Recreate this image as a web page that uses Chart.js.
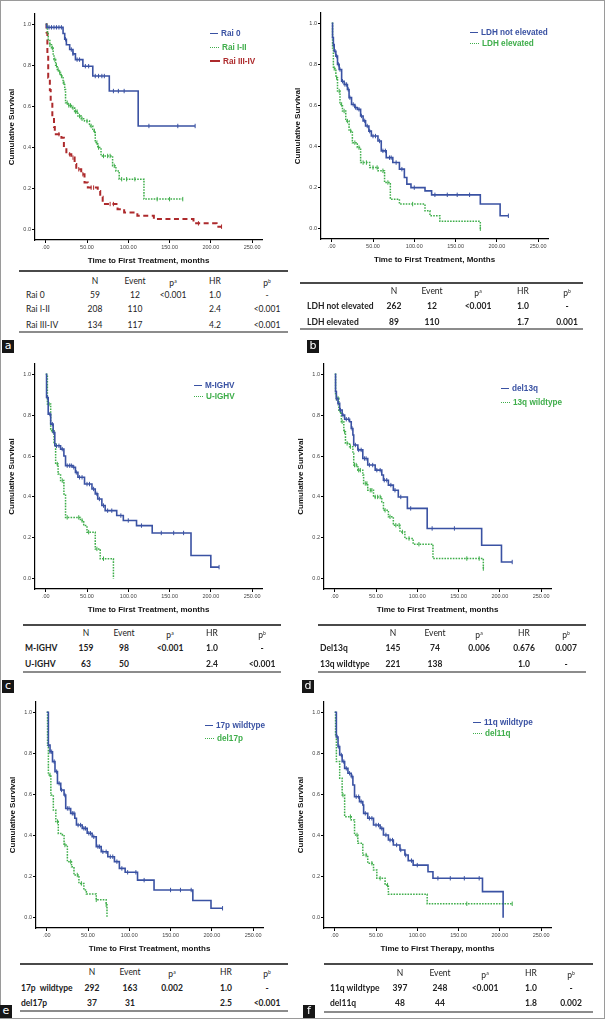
<!DOCTYPE html>
<html>
<head>
<meta charset="utf-8">
<script src="https://cdn.jsdelivr.net/npm/chart.js@4.4.1/dist/chart.umd.min.js"></script>
<style>
  body { margin: 0; background: #fff; }
  #fig { position: relative; width: 605px; height: 1019px; overflow: hidden; background: #fff;
         font-family: "Liberation Sans", Arial, sans-serif; }
  #frame { position: absolute; left: 0; top: 0; right: 0; bottom: 0; border: 1.5px solid #9a9a9a; pointer-events: none; }
  canvas { position: absolute; }
  .leg { position: absolute; font-weight: bold; font-size: 8.2px; line-height: 10px; white-space: nowrap; }
  .leg i { display: inline-block; vertical-align: middle; margin-right: 3px; margin-top: -1px; }
  .cell { position: absolute; font-family: Lato, sans-serif; font-size: 8.5px; line-height: 10px; white-space: nowrap; color: #222; }
  .cell sup { font-size: 5px; vertical-align: 3px; }
  .rule { position: absolute; height: 1.5px; }
  .tag { position: absolute; width: 12px; height: 13px; background: #161616; color: #fff; font: 11px/12px "DejaVu Sans", sans-serif; text-align: center; }
</style>
</head>
<body>
<div id="fig"><div id="frame"></div></div>
<script>
// axis ticks shared by every panel
const xTickValues = [0, 50, 100, 150, 200, 250];
const xTickLabels = [".00", "50.00", "100.00", "150.00", "200.00", "250.00"];
const yTickValues = [0, 0.2, 0.4, 0.6, 0.8, 1.0];
const yTickLabels = ["0.0", "0.2", "0.4", "0.6", "0.8", "1.0"];

// Kaplan-Meier steps: [months, cumulative survival]
// (a) Rai stage
const rai0Steps = [[0,1],[1,0.985],[21,0.955],[23,0.927],[25,0.90],[29,0.877],[33,0.856],[36,0.828],[45,0.796],[57,0.748],[77,0.675],[112,0.505],[181,0.505]];
const rai0Cens = [4,7,10,13,16,19,24,31,33,38,41,48,52,60,64,68,71,82,88,95,125,160,181];
const rai12Steps = [[0,1],[2,0.96],[3,0.925],[5,0.9],[7,0.885],[9,0.85],[10,0.828],[12,0.8],[14,0.78],[16,0.765],[18,0.748],[21,0.715],[23,0.683],[24,0.618],[27,0.605],[31,0.594],[35,0.575],[39,0.553],[43,0.54],[47,0.529],[53,0.505],[57,0.481],[60,0.424],[63,0.4],[67,0.359],[81,0.311],[85,0.286],[89,0.246],[119,0.149],[166,0.149]];
const rai12Cens = [5,8,11,13,15,17,19,22,26,28,30,33,36,38,41,44,50,55,59,62,64,70,75,78,83,92,98,108,135,150,166];
const rai34Steps = [[0,1],[1,0.96],[2,0.85],[3,0.74],[5,0.68],[6,0.626],[8,0.55],[10,0.5],[11,0.465],[19,0.448],[22,0.4],[25,0.367],[31,0.351],[35,0.32],[37,0.294],[43,0.27],[47,0.23],[51,0.205],[63,0.189],[66,0.16],[69,0.125],[87,0.1],[95,0.084],[111,0.068],[131,0.052],[179,0.031],[207,0.015],[213,0.015]];
const rai34Cens = [16,29,33,40,45,55,58,78,82,185,213];

// (b) LDH
const ldhNotSteps = [[0,1],[1,0.93],[2,0.896],[3,0.864],[5,0.84],[7,0.8],[9,0.775],[12,0.718],[15,0.702],[19,0.678],[21,0.638],[24,0.605],[28,0.59],[31,0.581],[35,0.549],[38,0.525],[41,0.5],[45,0.475],[48,0.451],[56,0.427],[60,0.379],[66,0.346],[74,0.322],[82,0.29],[88,0.249],[91,0.217],[96,0.2],[113,0.184],[121,0.165],[180,0.12],[204,0.063],[214,0.063]];
const ldhNotCens = [2,4,6,8,10,13,16,18,20,22,26,29,33,36,40,43,46,50,53,58,62,65,70,72,78,85,100,125,140,152,167,214];
const ldhElevSteps = [[0,1],[1,0.88],[2,0.78],[5,0.735],[7,0.67],[10,0.605],[13,0.573],[17,0.524],[21,0.476],[25,0.419],[31,0.395],[35,0.322],[46,0.298],[56,0.282],[64,0.225],[71,0.144],[82,0.12],[113,0.087],[119,0.063],[131,0.036],[180,0.0]];
const ldhElevCens = [3,6,9,12,15,19,23,28,33,38,42,50,55,62,68,98,180];

// (c) IGHV
const mIghvSteps = [[0,1],[1,0.886],[3,0.805],[6,0.756],[9,0.715],[11,0.65],[18,0.634],[22,0.6],[24,0.553],[33,0.545],[36,0.52],[39,0.496],[47,0.463],[56,0.439],[60,0.415],[63,0.39],[68,0.358],[72,0.333],[86,0.309],[94,0.285],[110,0.26],[129,0.224],[176,0.114],[200,0.057],[210,0.057]];
const mIghvCens = [2,5,8,10,13,16,20,26,29,31,34,37,41,44,50,53,58,62,65,70,75,80,91,100,116,140,155,167,210];
const uIghvSteps = [[0,1],[2,0.854],[6,0.724],[10,0.66],[12,0.561],[15,0.512],[18,0.48],[22,0.415],[24,0.3],[42,0.285],[46,0.26],[50,0.228],[60,0.146],[66,0.098],[82,0.0]];
const uIghvCens = [4,8,14,20,26,40,44,52,62,70];

// (d) 13q
const del13qSteps = [[0,1],[1,0.915],[2,0.882],[4,0.858],[6,0.825],[9,0.8],[12,0.78],[18,0.768],[20,0.735],[22,0.703],[23,0.654],[28,0.63],[34,0.588],[40,0.556],[49,0.531],[57,0.507],[59,0.482],[65,0.458],[71,0.433],[77,0.4],[88,0.344],[112,0.246],[178,0.164],[202,0.082],[215,0.082]];
const del13qCens = [2,4,7,10,14,17,21,25,29,32,36,38,42,46,51,55,60,63,68,73,80,92,118,145,215];
const wt13qSteps = [[0,1],[1,0.899],[2,0.882],[5,0.817],[8,0.768],[11,0.719],[13,0.662],[18,0.646],[22,0.613],[23,0.556],[28,0.531],[34,0.507],[35,0.466],[40,0.433],[47,0.4],[57,0.376],[59,0.335],[65,0.303],[71,0.262],[79,0.229],[85,0.197],[95,0.169],[119,0.099],[180,0.05]];
const wt13qCens = [2,4,7,9,12,15,19,24,26,29,31,37,39,43,45,49,52,55,61,67,74,78,82,90,102,160,175,180];

// (e) 17p
const wt17pSteps = [[0,1],[2,0.84],[4,0.808],[7,0.76],[10,0.711],[13,0.654],[17,0.622],[21,0.597],[23,0.532],[29,0.508],[34,0.484],[36,0.451],[43,0.435],[49,0.411],[55,0.394],[60,0.346],[66,0.321],[74,0.297],[82,0.273],[88,0.24],[95,0.221],[110,0.183],[130,0.135],[177,0.084],[199,0.046],[213,0.046]];
const wt17pCens = [2,4,6,9,12,15,18,22,25,27,31,33,38,41,45,47,51,53,57,62,64,68,72,77,80,85,91,98,108,118,150,162,175,213];
const del17pSteps = [[0,1],[1,0.84],[2,0.695],[5,0.597],[8,0.524],[11,0.468],[14,0.41],[19,0.403],[21,0.354],[25,0.273],[30,0.248],[33,0.208],[39,0.167],[45,0.135],[48,0.116],[60,0.087],[72,0.063],[73,0.0]];
const del17pCens = [4,13,22,29,37,42,60,72];

// (f) 11q
const wt11qSteps = [[0,1],[2,0.88],[4,0.833],[6,0.792],[9,0.76],[12,0.727],[16,0.703],[20,0.687],[22,0.646],[24,0.589],[30,0.565],[34,0.549],[35,0.508],[40,0.484],[47,0.451],[55,0.435],[59,0.403],[65,0.378],[71,0.354],[79,0.33],[85,0.305],[89,0.278],[95,0.256],[113,0.224],[119,0.192],[179,0.127],[204,0.0]];
const wt11qCens = [3,5,8,11,14,18,21,26,29,32,37,42,45,50,53,57,62,67,70,75,80,86,93,100,125,140,157,175];
const del11qSteps = [[0,1],[1,0.89],[2,0.76],[6,0.679],[9,0.597],[12,0.492],[20,0.476],[24,0.403],[28,0.362],[34,0.305],[40,0.265],[47,0.232],[51,0.192],[61,0.159],[65,0.114],[112,0.068],[215,0.068]];
const del11qCens = [10,19,27,38,45,55,64,160,215];

// tables: label, N, Event, p(a), HR, p(b)
const tableHead = ["N", "Event", "p<sup>a</sup>", "HR", "p<sup>b</sup>"];
const tableRai = [["Rai 0","59","12","<0.001","1.0","-"],["Rai I-II","208","110","","2.4","<0.001"],["Rai III-IV","134","117","","4.2","<0.001"]];
const tableLdh = [["LDH not elevated","262","12","<0.001","1.0","-"],["LDH elevated","89","110","","1.7","0.001"]];
const tableIghv = [["M-IGHV","159","98","<0.001","1.0","-"],["U-IGHV","63","50","","2.4","<0.001"]];
const table13q = [["Del13q","145","74","0.006","0.676","0.007"],["13q wildtype","221","138","","1.0","-"]];
const table17p = [["17p  wildtype","292","163","0.002","1.0","-"],["del17p","37","31","","2.5","<0.001"]];
const table11q = [["11q wildtype","397","248","<0.001","1.0","-"],["del11q","48","44","","1.8","0.002"]];

const BLUE = "#3a52a3", GREEN = "#3fae4b", RED = "#ad2a2c";
const styles = {
  blue:  { color: BLUE,  dash: [],        width: 1.6, css: "solid",  w: 8,  bw: 1.5 },
  green: { color: GREEN, dash: [1.6, 1.2], width: 1.5, css: "dotted", w: 9,  bw: 1.5 },
  red:   { color: RED,   dash: [5, 3.5],  width: 2,   css: "dashed", w: 10, bw: 2 }
};

const panels = [
  { tag: "a", x: 0, top: 13, bottom: 240, xTitle: "Time to First Treatment, months",
    series: [["Rai 0", rai0Steps, rai0Cens, "blue"], ["Rai I-II", rai12Steps, rai12Cens, "green"], ["Rai III-IV", rai34Steps, rai34Cens, "red"]],
    legend: { x: 210, y: [34, 48, 62] },
    table: { rows: tableRai, line: [19, 288], top: 271, head: 281, rowY: [295, 309, 325], bottom: 332, cols: [26, 95, 135, 173, 215, 267], bold: false },
    tagPos: [2, 340] },
  { tag: "b", x: 286, top: 12, bottom: 239, xTitle: "Time to First Treatment, Months",
    series: [["LDH not elevated", ldhNotSteps, ldhNotCens, "blue"], ["LDH elevated", ldhElevSteps, ldhElevCens, "green"]],
    legend: { x: 470, y: [33, 44] },
    table: { rows: tableLdh, line: [300, 583], top: 283, head: 291, rowY: [306, 322], bottom: 329, cols: [307, 394, 432, 478, 523, 567], bold: true },
    tagPos: [307, 340] },
  { tag: "c", x: 0, top: 362.5, bottom: 588.5, xTitle: "Time to First Treatment, months",
    series: [["M-IGHV", mIghvSteps, mIghvCens, "blue"], ["U-IGHV", uIghvSteps, uIghvCens, "green"]],
    legend: { x: 194, y: [386, 397] },
    table: { rows: tableIghv, line: [23, 281], top: 625, head: 633, rowY: [648, 664], bottom: 672, cols: [25, 86, 124, 170, 212, 262], bold: true },
    tagPos: [2, 680] },
  { tag: "d", x: 289, top: 362.5, bottom: 588.5, xTitle: "Time to First Treatment, months",
    series: [["del13q", del13qSteps, del13qCens, "blue"], ["13q wildtype", wt13qSteps, wt13qCens, "green"]],
    legend: { x: 501, y: [389, 403] },
    table: { rows: table13q, line: [318, 586], top: 625, head: 633, rowY: [648, 664], bottom: 672, cols: [320, 393, 435, 479, 524, 566], bold: true },
    tagPos: [302, 680] },
  { tag: "e", x: 1, top: 700.5, bottom: 927.5, xTitle: "Time to First Treatment, months",
    series: [["17p wildtype", wt17pSteps, wt17pCens, "blue"], ["del17p", del17pSteps, del17pCens, "green"]],
    legend: { x: 205, y: [726, 739] },
    table: { rows: table17p, line: [20, 288], top: 964, head: 972, rowY: [988, 1003], bottom: 1011, cols: [21, 92, 130, 172, 226, 267], bold: true },
    tagPos: [0, 1005] },
  { tag: "f", x: 289, top: 700.5, bottom: 927.5, xTitle: "Time to First Therapy, months",
    series: [["11q wildtype", wt11qSteps, wt11qCens, "blue"], ["del11q", del11qSteps, del11qCens, "green"]],
    legend: { x: 473, y: [723, 734] },
    table: { rows: table11q, line: [324, 593], top: 964, head: 973, rowY: [988, 1003], bottom: 1012, cols: [330, 400, 440, 485, 531, 571], bold: true },
    tagPos: [303, 1005] }
];

const fig = document.getElementById("fig");
Chart.defaults.font.family = "'Liberation Sans', Arial, sans-serif";

// survival value in force at time t (for placing censor ticks)
function survAt(steps, t) {
  let s = steps[0][1];
  for (const [time, val] of steps) { if (time <= t) s = val; }
  return s;
}

function add(html, cls, left, top, extra) {
  const d = document.createElement("div");
  d.className = cls;
  d.innerHTML = html;
  d.style.left = left + "px";
  d.style.top = top + "px";
  if (extra) Object.assign(d.style, extra);
  fig.appendChild(d);
  return d;
}

function drawPanel(p) {
  const canvas = document.createElement("canvas");
  const padTop = 4, xAxisH = 26, yAxisW = 35, areaW = 227, cw = 300;
  canvas.width = cw;
  canvas.height = (p.bottom - p.top) + padTop + xAxisH;
  canvas.style.left = p.x + "px";
  canvas.style.top = (p.top - padTop) + "px";
  fig.appendChild(canvas);

  const datasets = [];
  p.series.forEach(([label, steps, cens, kind]) => {
    const st = styles[kind];
    datasets.push({
      label: label,
      data: steps.map(([x, y]) => ({ x, y })),
      stepped: "before",
      borderColor: st.color,
      borderWidth: st.width,
      borderDash: st.dash,
      pointRadius: 0,
      fill: false
    });
    datasets.push({
      label: label + " censored",
      data: cens.map(t => ({ x: t, y: survAt(steps, t) })),
      showLine: false,
      pointStyle: "line",
      rotation: 90,
      pointRadius: 2.2,
      pointBorderWidth: 1,
      borderColor: st.color,
      backgroundColor: st.color
    });
  });

  new Chart(canvas, {
    type: "line",
    data: { datasets },
    options: {
      responsive: false,
      animation: false,
      layout: { padding: { top: padTop, left: 0, bottom: 0, right: cw - yAxisW - areaW } },
      plugins: { legend: { display: false }, tooltip: { enabled: false } },
      scales: {
        x: {
          type: "linear", min: -13, max: 262,
          afterBuildTicks: s => { s.ticks = xTickValues.map(v => ({ value: v })); },
          afterFit: s => { s.height = xAxisH; },
          grid: { drawOnChartArea: false, drawTicks: true, tickLength: 3, color: "#000" },
          border: { color: "#000", width: 1.2 },
          ticks: { autoSkip: false, maxRotation: 0, padding: 1, color: "#444", font: { size: 5.5 },
                   callback: (v, i) => xTickLabels[i] },
          title: { display: true, text: p.xTitle, color: "#111", font: { size: 8, weight: "bold" }, padding: { top: 0, bottom: 0 } }
        },
        y: {
          type: "linear", min: -0.05, max: 1.05,
          afterBuildTicks: s => { s.ticks = yTickValues.map(v => ({ value: v })); },
          afterFit: s => { s.width = yAxisW; },
          grid: { drawOnChartArea: false, drawTicks: true, tickLength: 3, color: "#000" },
          border: { color: "#000", width: 1.2 },
          ticks: { padding: 1, color: "#444", font: { size: 5.5 }, callback: (v, i) => yTickLabels[i] },
          title: { display: true, text: "Cumulative Survival", color: "#111", font: { size: 8, weight: "bold" }, padding: { top: 7.2, bottom: 0 } }
        }
      }
    }
  });

  // legend in the upper right of the plot
  p.series.forEach(([label, , , kind], i) => {
    const st = styles[kind];
    const sample = `<i style="width:${st.w}px;border-top:${st.bw}px ${st.css} ${st.color}"></i>`;
    add(sample + label, "leg", p.legend.x, p.legend.y[i] - 5, { color: st.color });
  });

  // table under the plot
  const t = p.table;
  add("", "rule", t.line[0], t.top - 0.75, { width: (t.line[1] - t.line[0]) + "px", background: "#4a4a4a" });
  add("", "rule", t.line[0], t.bottom - 0.75, { width: (t.line[1] - t.line[0]) + "px", background: "#8c8c8c" });
  tableHead.forEach((h, j) => {
    add(h, "cell", t.cols[j + 1], t.head - 5, { transform: "translateX(-50%)" });
  });
  t.rows.forEach((row, r) => {
    row.forEach((txt, j) => {
      const safe = txt.replace(/</g, "&lt;").replace(/ {2}/g, "&nbsp; ");
      const extra = { fontWeight: t.bold ? "bold" : "normal" };
      if (j > 0) extra.transform = "translateX(-50%)";
      add(safe, "cell", t.cols[j], t.rowY[r] - 5, extra);
    });
  });

  add(p.tag, "tag", p.tagPos[0], p.tagPos[1]);
}

panels.forEach(drawPanel);
</script>
</body>
</html>
